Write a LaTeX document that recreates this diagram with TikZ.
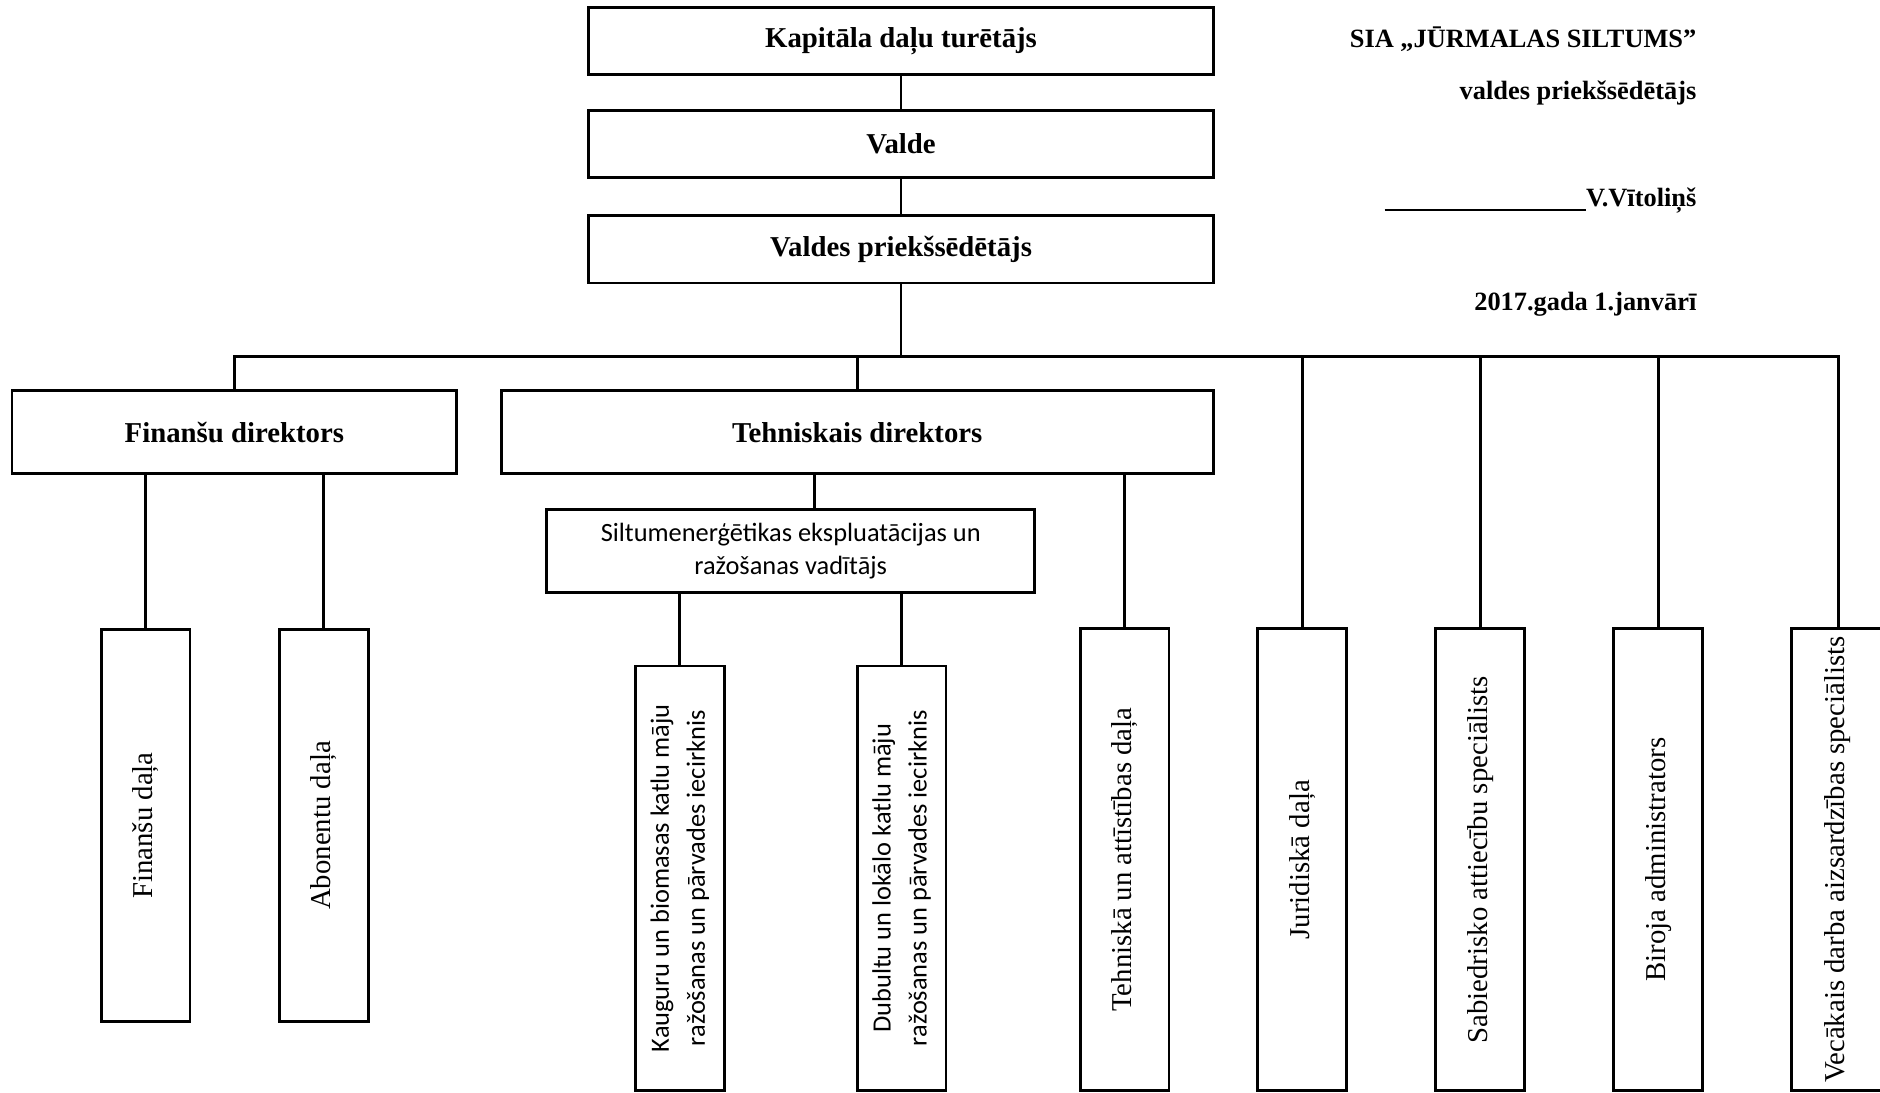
\documentclass[tikz,border=0pt]{standalone}
\usepackage{fontspec}
\setmainfont{Liberation Serif}
\newfontfamily\calibri{Carlito}
\begin{document}
\begin{tikzpicture}[x=0.5pt,y=-0.5pt,line width=1.2pt,
  head/.style={draw,minimum width=260.5pt,minimum height=28pt,font=\fontsize{12}{14}\selectfont\bfseries},
  dir/.style={draw,minimum height=34.5pt,font=\fontsize{12}{14}\selectfont\bfseries},
  vbox/.style={draw,rotate=90,inner sep=1pt,minimum height=37pt,font=\fontsize{12}{14}\selectfont},
  dept/.style={vbox,minimum width=163.5pt},
  staff/.style={vbox,minimum width=192.5pt},
  sect/.style={vbox,minimum width=177pt,align=center,font=\fontsize{11}{15}\selectfont\calibri},
  sign/.style={anchor=base east,inner sep=0pt,font=\fontsize{11}{13}\selectfont\bfseries}]
\useasboundingbox (0,0) rectangle (1568,911);
\clip (0,0) rectangle (1568,911);
% top of the chart
\node[head] (kap) at (751.5,34) {Kapitāla daļu turētājs};
\node[head] (valde) at (751.5,120) {Valde};
\node[head] (vpr) at (751.5,208) {Valdes priekšsēdētājs};
\draw (kap) -- (valde);
\draw (valde) -- (vpr);
% signature block
\node[sign] (sia) at (1416,40) {SIA „JŪRMALAS SILTUMS”};
\node[sign] (amats) at (1416,83) {valdes priekšsēdētājs};
\node[sign] (paraksts) at (1416,172) {\rule[-2pt]{84pt}{0.8pt}V.Vītoliņš};
\node[sign] (datums) at (1416,259) {2017.gada 1.janvārī};
% directors
\node[dir,minimum width=185.5pt] (fin) at (195.5,360.5) {Finanšu direktors};
\node[dir,minimum width=297pt] (teh) at (715,360.5) {Tehniskais direktors};
\node[draw,minimum width=203.5pt,minimum height=34.5pt,align=center,
  font=\fontsize{11}{14}\selectfont\calibri] (silt) at (659.5,459.5)
  {Siltumenerģētikas ekspluatācijas un\\ražošanas vadītājs};
% departments
\node[dept] (findala) at (121.5,688.5) {Finanšu daļa};
\node[dept] (abon) at (270,688.5) {Abonentu daļa};
\node[sect] (kaug) at (567,732.5) {Kauguru un biomasas katlu māju\\ražošanas un pārvades iecirknis};
\node[sect] (dub) at (752,732.5) {Dubultu un lokālo katlu māju\\ražošanas un pārvades iecirknis};
\node[staff] (tehat) at (938,717) {Tehniskā un attīstības daļa};
\node[staff] (jur) at (1086,717) {Juridiskā daļa};
\node[staff] (sab) at (1234.5,717) {Sabiedrisko attiecību speciālists};
\node[staff] (bir) at (1383,717) {Biroja administrators};
\node[staff,minimum height=39pt] (vec) at (1533,717) {Vecākais darba aizsardzības speciālists};
% connectors
\coordinate (bus) at (751.5,297);
\draw (vpr.south) -- (bus);
\draw (fin.north) |- (bus) -| (vec.east);
\draw (teh.north) -- (teh.north |- bus);
\foreach \n in {jur,sab,bir}
  \draw (\n.east) -- (\n.east |- bus);
\foreach \n in {findala,abon}
  \draw (\n.east) -- (\n.east |- fin.south);
\draw ([xshift=10pt]silt.north) -- ([xshift=10pt]silt.north |- teh.south);
\draw (tehat.east) -- (tehat.east |- teh.south);
\foreach \n in {kaug,dub}
  \draw (\n.east) -- (\n.east |- silt.south);
\end{tikzpicture}
\end{document}
